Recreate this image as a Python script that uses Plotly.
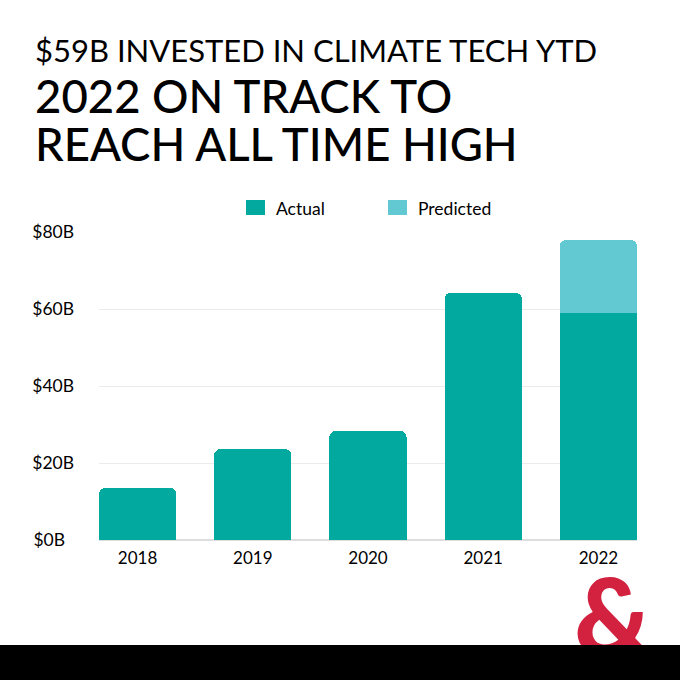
import plotly.graph_objects as go

years = ["2018", "2019", "2020", "2021", "2022"]
actual = [13.5, 23.6, 28.3, 64.2, 59]
predicted = [None, None, None, None, 18.9]

y_ticks = [0, 20, 40, 60, 80]
y_labels = ["$0B\u00a0\u00a0", "$20B", "$40B", "$60B", "$80B"]

kicker = "$59B INVESTED IN CLIMATE TECH YTD"
headline = ["2022 ON TRACK TO", "REACH ALL TIME HIGH"]

TEAL = "#02A99F"
LIGHT_TEAL = "#62C8D1"
RED = "#D2223F"
FONT = "Lato"

W = 680
H = 680
# plot box in pixels
L, R, T, B = 99, 637, 232, 540


def px(x):
    return (x - L) / (R - L)


def py(y):
    return (B - y) / (B - T)


fig = go.Figure()

fig.add_trace(go.Bar(x=years, y=actual, name="Actual", marker_color=TEAL, marker_line_width=0))
fig.add_trace(go.Bar(x=years, y=predicted, name="Predicted", marker_color=LIGHT_TEAL, marker_line_width=0))

annotations = [
    dict(text=kicker, x=px(33), y=py(50), font=dict(size=31, color="black", family=FONT)),
    dict(text=headline[0], x=px(33), y=py(95), font=dict(size=45.5, color="black", family=FONT, weight=500)),
    dict(text=headline[1], x=px(33), y=py(143), font=dict(size=45.5, color="black", family=FONT, weight=500)),
    dict(text="Actual", x=px(274), y=py(208), font=dict(size=17.5, color="black", family=FONT)),
    dict(text="Predicted", x=px(416), y=py(208), font=dict(size=17.5, color="black", family=FONT)),
    # logo, the black band below cuts it off
    dict(text="&", x=px(613), y=py(614), xanchor="center",
         font=dict(size=106, color=RED, family=FONT, weight=900)),
    dict(text=" ", x=0 - L / (R - L), y=py(680), xanchor="left", yanchor="bottom",
         width=W, height=35, bgcolor="black", borderpad=0, borderwidth=0),
]
for a in annotations[:6]:
    a.setdefault("xanchor", "left")
    a.setdefault("yanchor", "middle")
for a in annotations:
    a.update(xref="paper", yref="paper", showarrow=False)

# hand-made legend, plotly's bar swatches are too small
swatches = [
    dict(type="rect", xref="paper", yref="paper", x0=px(246), x1=px(265), y0=py(215), y1=py(200),
         fillcolor=TEAL, line_width=0),
    dict(type="rect", xref="paper", yref="paper", x0=px(388), x1=px(407), y0=py(215), y1=py(200),
         fillcolor=LIGHT_TEAL, line_width=0),
]

fig.update_layout(
    width=W,
    height=H,
    margin=dict(l=L, r=W - R, t=T, b=H - B, pad=0),
    paper_bgcolor="white",
    plot_bgcolor="white",
    barmode="stack",
    bargap=0.33,
    barcornerradius=6,
    font=dict(family=FONT, color="black", size=17),
    showlegend=False,
    annotations=annotations,
    shapes=swatches,
)
fig.update_xaxes(
    type="category",
    range=[-0.335, 4.335],
    showgrid=False,
    ticks="",
    showline=False,
    ticklabelstandoff=6,
    tickfont=dict(size=17),
)
fig.update_yaxes(
    range=[0, 80],
    tickvals=y_ticks,
    ticktext=y_labels,
    gridcolor="#EBEBEB",
    gridwidth=1,
    zerolinecolor="#DDDDDD",
    zerolinewidth=1.5,
    ticks="",
    ticklabelstandoff=24,
    tickfont=dict(size=17.5),
)

fig.write_html("out.html", config=dict(displayModeBar=False), post_script="document.body.style.margin='0';")
